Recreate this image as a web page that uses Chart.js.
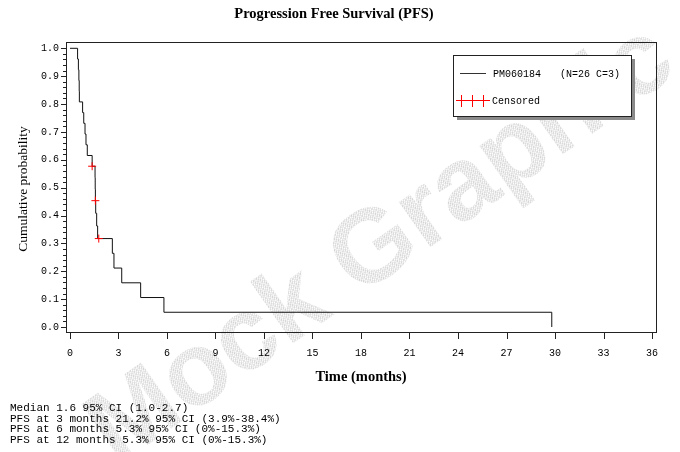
<!DOCTYPE html>
<html>
<head>
<meta charset="utf-8">
<script src="https://cdn.jsdelivr.net/npm/chart.js@4/dist/chart.umd.min.js"></script>
<style>
  html, body { margin: 0; padding: 0; background: #fff; }
  #wrap { position: relative; width: 680px; height: 452px; overflow: hidden; }
  canvas { position: absolute; left: 0; top: 0; }
  #stats { position: absolute; left: 10px; top: 403px; margin: 0;
           font-family: "Liberation Mono", "DejaVu Sans Mono", monospace;
           font-size: 11px; line-height: 10.7px; color: #000; white-space: pre; }
</style>
</head>
<body>
<div id="wrap">
<canvas id="c" width="680" height="452"></canvas>
<pre id="stats"></pre>
</div>
<script>
// ---- data ----
const eventTimes = [0, 0.47, 0.52, 0.55, 0.57, 0.58, 0.78, 0.85, 0.93, 0.99, 1.07, 1.37, 1.55, 1.56, 1.57, 1.59, 1.65, 1.71, 2.62, 2.72, 3.20, 4.37, 5.81, 29.8];
const survival   = [1.0, 0.9615, 0.9231, 0.8846, 0.8462, 0.8077, 0.7692, 0.7308, 0.6923, 0.6538, 0.6154, 0.5769, 0.5357, 0.4945, 0.4533, 0.4080, 0.3626, 0.3173, 0.2644, 0.2115, 0.1586, 0.1058, 0.0529, 0.0];
const censorTimes = [1.37, 1.57, 1.78];
const censorSurv  = [0.5769, 0.4533, 0.3173];
const xTicks = [0, 3, 6, 9, 12, 15, 18, 21, 24, 27, 30, 33, 36];
const yTicks = [0, 0.1, 0.2, 0.3, 0.4, 0.5, 0.6, 0.7, 0.8, 0.9, 1.0];
const titleText = "Progression Free Survival (PFS)";
const xTitle = "Time (months)";
const yTitle = "Cumulative probability";
const seriesName = "PM060184";
const seriesInfo = "(N=26 C=3)";
const censorLabel = "Censored";
const statsLines = [
  "Median 1.6 95% CI (1.0-2.7)",
  "PFS at 3 months 21.2% 95% CI (3.9%-38.4%)",
  "PFS at 6 months 5.3% 95% CI (0%-15.3%)",
  "PFS at 12 months 5.3% 95% CI (0%-15.3%)"
];
const watermark = "Mock Graphic";

document.getElementById('stats').textContent = statsLines.join('\n');

const mono = '"Liberation Mono", "DejaVu Sans Mono", monospace';
const serif = '"Liberation Serif", "Times New Roman", serif';

const curve = eventTimes.map((t, i) => ({ x: t, y: survival[i] }));
const censors = censorTimes.map((t, i) => ({ x: t, y: censorSurv[i] }));

function makePattern(ctx) {
  const p = document.createElement('canvas');
  p.width = 3; p.height = 3;
  const pc = p.getContext('2d');
  pc.fillStyle = '#ffffff';
  pc.fillRect(0, 0, 3, 3);
  pc.fillStyle = '#d2d2d2';
  pc.fillRect(0, 0, 1, 1);
  pc.fillRect(2, 1, 1, 1);
  pc.fillRect(1, 2, 1, 1);
  pc.fillStyle = '#e6e6e6';
  pc.fillRect(1, 0, 1, 1);
  pc.fillRect(0, 2, 1, 1);
  return ctx.createPattern(p, 'repeat');
}

const decor = {
  id: 'decor',
  beforeDraw(chart) {
    const ctx = chart.ctx;
    ctx.save();
    ctx.translate(382, 246);
    ctx.rotate(-35 * Math.PI / 180);
    ctx.font = 'bold 104px "Liberation Sans", Arial, sans-serif';
    ctx.textAlign = 'center';
    ctx.textBaseline = 'middle';
    ctx.fillStyle = makePattern(ctx);
    ctx.fillText(watermark, 0, 0);
    ctx.restore();
  },
  afterDraw(chart) {
    const ctx = chart.ctx;
    const a = chart.chartArea;
    const xs = chart.scales.x, ys = chart.scales.y;
    ctx.save();
    // frame
    ctx.strokeStyle = '#222';
    ctx.lineWidth = 1;
    ctx.strokeRect(Math.round(a.left) + 0.5, Math.round(a.top) + 0.5,
                   Math.round(a.right - a.left) - 1, Math.round(a.bottom - a.top) - 1);
    // y ticks (major + minor)
    ctx.beginPath();
    for (let k = 0; k <= 50; k++) {
      const v = k / 50;
      const y = Math.round(ys.getPixelForValue(v)) + 0.5;
      const len = (k % 5 === 0) ? 5 : 3;
      ctx.moveTo(a.left, y);
      ctx.lineTo(a.left - len, y);
    }
    // x ticks
    xTicks.forEach(v => {
      const x = Math.round(xs.getPixelForValue(v)) + 0.5;
      ctx.moveTo(x, a.bottom);
      ctx.lineTo(x, a.bottom + 6);
    });
    ctx.stroke();

    // titles
    ctx.fillStyle = '#000';
    ctx.textAlign = 'center';
    ctx.textBaseline = 'middle';
    ctx.font = 'bold 14.5px ' + serif;
    ctx.fillText(titleText, 334, 14);
    ctx.fillText(xTitle, 361, 377);
    ctx.save();
    ctx.translate(23, 189);
    ctx.rotate(-Math.PI / 2);
    ctx.font = '13.5px ' + serif;
    ctx.fillText(yTitle, 0, 0);
    ctx.restore();

    // legend box with shadow
    const bx = 453, by = 55, bw = 178, bh = 61;
    ctx.fillStyle = '#8a8a8a';
    ctx.fillRect(bx + 4, by + 4, bw, bh);
    ctx.fillStyle = '#fff';
    ctx.fillRect(bx, by, bw, bh);
    ctx.strokeStyle = '#222';
    ctx.strokeRect(bx + 0.5, by + 0.5, bw, bh);
    // series line sample
    ctx.beginPath();
    ctx.strokeStyle = '#333';
    ctx.moveTo(460, 73.5); ctx.lineTo(486, 73.5);
    ctx.stroke();
    ctx.font = '10px ' + mono;
    ctx.textAlign = 'left';
    ctx.fillStyle = '#000';
    ctx.fillText(seriesName, 493, 74);
    ctx.fillText(seriesInfo, 560, 74);
    // censored sample
    ctx.beginPath();
    ctx.strokeStyle = '#ff0000';
    ctx.moveTo(456, 100.5); ctx.lineTo(490, 100.5);
    [461.5, 472.5, 483.5].forEach(x => { ctx.moveTo(x, 95); ctx.lineTo(x, 107); });
    ctx.stroke();
    ctx.fillText(censorLabel, 492, 101);
    ctx.restore();
  }
};

new Chart(document.getElementById('c'), {
  type: 'line',
  data: {
    datasets: [
      {
        label: seriesName,
        data: curve,
        stepped: 'before',
        borderColor: '#111',
        borderWidth: 1,
        pointRadius: 0,
        fill: false,
        order: 2
      },
      {
        label: censorLabel,
        data: censors,
        showLine: false,
        pointStyle: 'cross',
        pointRadius: 4,
        pointBorderColor: '#ff0000',
        pointBorderWidth: 1,
        order: 1
      }
    ]
  },
  options: {
    responsive: false,
    animation: false,
    events: [],
    layout: { padding: { left: 0, top: 42, right: 23, bottom: 0 } },
    plugins: { legend: { display: false }, title: { display: false }, tooltip: { enabled: false } },
    scales: {
      x: {
        type: 'linear',
        min: -0.247, max: 36.309,
        afterBuildTicks: s => { s.ticks = xTicks.map(v => ({ value: v })); },
        afterFit: s => { s.height = 119; },
        grid: { display: false, drawTicks: false },
        border: { display: false },
        ticks: { font: { family: mono, size: 10 }, color: '#000', padding: 14, maxRotation: 0, autoSkip: false,
                 callback: v => String(v) }
      },
      y: {
        type: 'linear',
        min: -0.0215, max: 1.0226,
        afterBuildTicks: s => { s.ticks = yTicks.map(v => ({ value: v })); },
        afterFit: s => { s.width = 66; },
        grid: { display: false, drawTicks: false },
        border: { display: false },
        ticks: { font: { family: mono, size: 10 }, color: '#000', padding: 7, autoSkip: false,
                 callback: v => Number(v).toFixed(1) }
      }
    }
  },
  plugins: [decor]
});
</script>
</body>
</html>
